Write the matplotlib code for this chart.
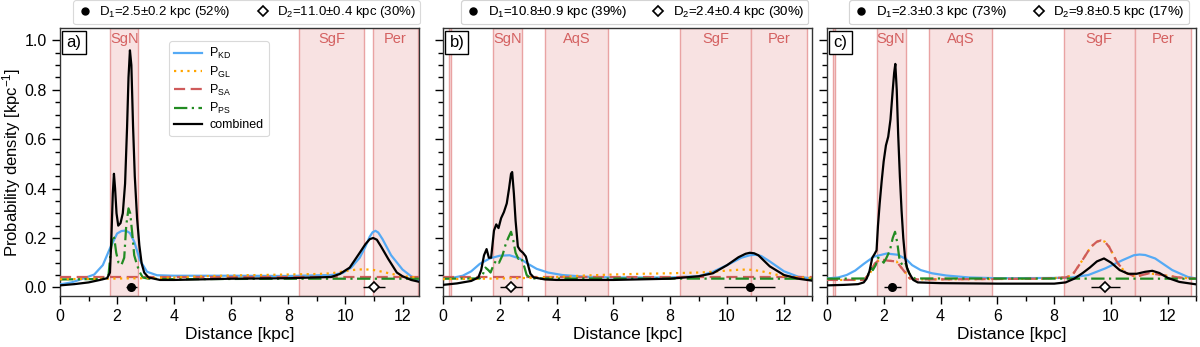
import matplotlib
matplotlib.use("Agg")
import matplotlib.pyplot as plt
from matplotlib.lines import Line2D

plt.rcParams["font.family"] = ["Liberation Sans", "DejaVu Sans"]
plt.rcParams["mathtext.fontset"] = "custom"
plt.rcParams["mathtext.rm"] = "Liberation Sans"
plt.rcParams["mathtext.it"] = "Liberation Sans:italic"

# ------------------------------------------------------------
# Data
# ------------------------------------------------------------

# panel a
kd_a_x = [0, 0.4, 0.8, 1.2, 1.5, 1.75, 2.0, 2.15, 2.3, 2.45, 2.6, 2.8, 3.05, 3.4, 4.0, 6.0, 8.0,
          9.5, 9.9, 10.2, 10.5, 10.7, 10.85, 10.95, 11.05, 11.15, 11.3, 11.6, 12.0, 12.3, 12.6]
kd_a_y = [0.012, 0.02, 0.035, 0.052, 0.09, 0.158, 0.218, 0.228, 0.23, 0.22, 0.185, 0.11, 0.063,
          0.049, 0.047, 0.047, 0.046, 0.05, 0.058, 0.08, 0.12, 0.165, 0.205, 0.223, 0.229, 0.222,
          0.195, 0.13, 0.072, 0.045, 0.025]
gl_a_x = [0, 1.5, 3, 4, 5, 6, 7, 8, 9, 9.5, 9.8, 10.1, 10.4, 10.7, 11.0, 11.3, 11.6, 11.9, 12.2, 12.6]
gl_a_y = [0.033, 0.035, 0.037, 0.04, 0.045, 0.048, 0.05, 0.052, 0.054, 0.057, 0.062, 0.068, 0.072,
          0.073, 0.07, 0.063, 0.055, 0.048, 0.043, 0.04]
sa_a_x = [0, 12.6]
sa_a_y = [0.04, 0.04]
ps_a_x = [0, 1.5, 1.7, 1.78, 1.85, 1.9, 1.97, 2.05, 2.15, 2.25, 2.32, 2.4, 2.46, 2.53, 2.6, 2.7,
          2.8, 2.9, 3.1, 4, 8, 10, 11, 12.6]
ps_a_y = [0.032, 0.034, 0.05, 0.15, 0.21, 0.2, 0.14, 0.1, 0.09, 0.12, 0.25, 0.32, 0.3, 0.22, 0.13,
          0.09, 0.06, 0.04, 0.035, 0.033, 0.035, 0.035, 0.035, 0.035]
cb_a_x = [0, 0.5, 1.0, 1.4, 1.65, 1.75, 1.8, 1.85, 1.89, 1.93, 1.98, 2.04, 2.12, 2.2, 2.28, 2.35,
          2.4, 2.45, 2.5, 2.56, 2.62, 2.7, 2.78, 2.86, 2.95, 3.1, 3.5, 4.0, 6.0, 8.0, 9.5, 9.8,
          10.15, 10.5, 10.7, 10.85, 10.97, 11.1, 11.25, 11.5, 11.8, 12.0, 12.3, 12.6]
cb_a_y = [0.008, 0.013, 0.02, 0.03, 0.037, 0.06, 0.2, 0.38, 0.46, 0.40, 0.30, 0.25, 0.26, 0.30,
          0.42, 0.65, 0.85, 0.96, 0.9, 0.65, 0.45, 0.28, 0.17, 0.097, 0.06, 0.04, 0.03, 0.03,
          0.035, 0.037, 0.042, 0.054, 0.08, 0.14, 0.175, 0.195, 0.20, 0.193, 0.165, 0.115, 0.06,
          0.045, 0.03, 0.022]

# panel b
kd_b_x = [0, 0.4, 0.7, 1.0, 1.3, 1.65, 2.0, 2.35, 2.7, 3.0, 3.3, 3.7, 4.2, 5.0, 6, 8, 9.0, 9.5,
          10.0, 10.5, 10.8, 11.0, 11.2, 11.5, 12.0, 12.5, 13.0]
kd_b_y = [0.036, 0.04, 0.047, 0.065, 0.095, 0.117, 0.128, 0.13, 0.117, 0.095, 0.075, 0.06, 0.05,
          0.043, 0.04, 0.04, 0.045, 0.063, 0.09, 0.12, 0.13, 0.132, 0.127, 0.105, 0.065, 0.043,
          0.036]
gl_b_x = [0, 2, 3, 4, 5, 6, 7, 8, 9, 9.5, 10.0, 10.5, 10.9, 11.3, 11.7, 12.1, 12.5, 13]
gl_b_y = [0.033, 0.036, 0.038, 0.042, 0.048, 0.052, 0.055, 0.057, 0.06, 0.063, 0.068, 0.072,
          0.071, 0.063, 0.052, 0.045, 0.04, 0.038]
sa_b_x = [0, 13]
sa_b_y = [0.04, 0.04]
ps_b_x = [0, 1.3, 1.4, 1.5, 1.6, 1.68, 1.78, 1.88, 1.98, 2.1, 2.2, 2.3, 2.4, 2.48, 2.56, 2.66,
          2.76, 2.85, 2.95, 3.1, 13]
ps_b_y = [0.035, 0.036, 0.05, 0.08, 0.07, 0.06, 0.09, 0.11, 0.1, 0.13, 0.17, 0.2, 0.225, 0.19,
          0.14, 0.115, 0.12, 0.09, 0.05, 0.036, 0.035]
cb_b_x = [0, 0.5, 1.0, 1.25, 1.35, 1.45, 1.54, 1.62, 1.7, 1.8, 1.88, 1.96, 2.05, 2.15, 2.25,
          2.33, 2.4, 2.44, 2.5, 2.56, 2.64, 2.72, 2.82, 2.92, 3.0, 3.08, 3.2, 3.6, 4.0, 6.0, 8.0,
          9.0, 9.5, 10.0, 10.4, 10.65, 10.8, 10.95, 11.1, 11.5, 12.0, 12.5, 13.0]
cb_b_y = [0.01, 0.016, 0.026, 0.04, 0.07, 0.13, 0.155, 0.12, 0.12, 0.23, 0.255, 0.24, 0.28,
          0.305, 0.34, 0.4, 0.46, 0.467, 0.38, 0.27, 0.165, 0.15, 0.14, 0.125, 0.09, 0.055, 0.04,
          0.032, 0.03, 0.03, 0.035, 0.045, 0.057, 0.09, 0.122, 0.136, 0.14, 0.138, 0.13, 0.085,
          0.05, 0.035, 0.027]

# panel c
kd_c_x = [0, 0.4, 0.7, 1.0, 1.3, 1.65, 2.1, 2.5, 2.8, 3.0, 3.3, 3.7, 4.2, 5.0, 6, 8, 8.6, 9.2,
          9.8, 10.4, 10.8, 11.0, 11.2, 11.55, 12.15, 12.7, 13.0]
kd_c_y = [0.036, 0.04, 0.05, 0.068, 0.095, 0.124, 0.137, 0.132, 0.113, 0.09, 0.07, 0.057, 0.048,
          0.04, 0.037, 0.038, 0.04, 0.05, 0.077, 0.11, 0.13, 0.133, 0.131, 0.117, 0.07, 0.042,
          0.036]
sa_c_x = [0, 1.3, 1.52, 1.69, 1.87, 2.16, 2.45, 2.69, 2.92, 3.2, 7.5, 8.4, 8.64, 8.99, 9.29,
          9.5, 9.64, 9.78, 9.93, 10.22, 10.51, 10.86, 11.33, 11.8, 12.38, 13.0]
sa_c_y = [0.03, 0.03, 0.057, 0.097, 0.113, 0.108, 0.105, 0.07, 0.036, 0.032, 0.035, 0.04, 0.05,
          0.11, 0.164, 0.185, 0.19, 0.185, 0.164, 0.1, 0.059, 0.043, 0.057, 0.05, 0.04, 0.035]
gl_c_x = sa_c_x  # P_GL coincides with P_SA here
gl_c_y = sa_c_y
ps_c_x = [0, 1.35, 1.45, 1.55, 1.62, 1.72, 1.8, 1.9, 2.0, 2.1, 2.22, 2.32, 2.4, 2.48, 2.56, 2.66,
          2.76, 2.85, 2.95, 3.1, 13]
ps_c_y = [0.035, 0.036, 0.05, 0.08, 0.07, 0.09, 0.12, 0.115, 0.1, 0.12, 0.15, 0.2, 0.225, 0.18,
          0.11, 0.09, 0.1, 0.07, 0.045, 0.036, 0.035]
cb_c_x = [0, 0.6, 1.1, 1.3, 1.4, 1.5, 1.6, 1.68, 1.75, 1.8, 1.86, 1.93, 2.0, 2.08, 2.16, 2.24,
          2.32, 2.37, 2.41, 2.46, 2.51, 2.57, 2.63, 2.69, 2.75, 2.82, 2.9, 3.04, 3.2, 4.0, 6.0,
          8.0, 8.4, 8.7, 9.0, 9.25, 9.5, 9.75, 10.0, 10.3, 10.6, 10.9, 11.2, 11.45, 11.7, 12.0,
          12.4, 13.0]
cb_c_y = [0.008, 0.01, 0.013, 0.02, 0.035, 0.065, 0.12, 0.135, 0.15, 0.25, 0.34, 0.43, 0.51,
          0.575, 0.61, 0.68, 0.8, 0.87, 0.905, 0.8, 0.62, 0.45, 0.31, 0.2, 0.124, 0.08, 0.057,
          0.03, 0.02, 0.017, 0.015, 0.015, 0.02, 0.035, 0.058, 0.08, 0.105, 0.117, 0.1, 0.07,
          0.055, 0.055, 0.063, 0.067, 0.058, 0.038, 0.022, 0.012]

# spiral arm ranges [kpc]
arms_a = [("SgN", 1.75, 2.75), ("SgF", 8.37, 10.66), ("Per", 10.96, 12.53)]
arms_b = [("", 0.22, 0.30), ("SgN", 1.76, 2.79), ("AqS", 3.61, 5.81), ("SgF", 8.36, 10.83),
          ("Per", 10.83, 12.80)]
arms_c = [("", 0.22, 0.30), ("SgN", 1.75, 2.77), ("AqS", 3.60, 5.82), ("SgF", 8.33, 10.83),
          ("Per", 10.83, 12.80)]

# distance estimates: (value, error, weight)
d1 = [(2.5, 0.2, 52), (10.8, 0.9, 39), (2.3, 0.3, 73)]
d2 = [(11.0, 0.4, 30), (2.4, 0.4, 30), (9.8, 0.5, 17)]

panel_labels = ["a)", "b)", "c)"]
xmax = [12.57, 13.0, 13.0]

curves = [
    [(kd_a_x, kd_a_y), (gl_a_x, gl_a_y), (sa_a_x, sa_a_y), (ps_a_x, ps_a_y), (cb_a_x, cb_a_y)],
    [(kd_b_x, kd_b_y), (gl_b_x, gl_b_y), (sa_b_x, sa_b_y), (ps_b_x, ps_b_y), (cb_b_x, cb_b_y)],
    [(kd_c_x, kd_c_y), (gl_c_x, gl_c_y), (sa_c_x, sa_c_y), (ps_c_x, ps_c_y), (cb_c_x, cb_c_y)],
]
arms = [arms_a, arms_b, arms_c]

# ------------------------------------------------------------
# Styles
# ------------------------------------------------------------

names = [r"P$_{\rm KD}$", r"P$_{\rm GL}$", r"P$_{\rm SA}$", r"P$_{\rm PS}$", "combined"]
colors = ["#55aaf5", "orange", "#cf5b5b", "forestgreen", "black"]
styles = ["-", (0, (1, 2)), (0, (5, 2.5)), (0, (6, 2, 1, 2)), "-"]
zorders = [3, 5, 4, 4, 6]
band_face = "#f8e2e2"
band_edge = "#e9a3a3"
arm_color = "#d46060"

# ------------------------------------------------------------
# Figure
# ------------------------------------------------------------

fig = plt.figure(figsize=(12, 3.47), dpi=100)
lefts = [0.05, 0.369, 0.689]
widths = [0.299, 0.308, 0.308]

for i in range(3):
    ax = fig.add_axes([lefts[i], 0.147, widths[i], 0.772])

    for name, lo, hi in arms[i]:
        ax.axvspan(lo, hi, facecolor=band_face, edgecolor=band_edge, lw=1.0, zorder=0)
        if name:
            ax.text((lo + hi) / 2, 0.985, name, transform=ax.get_xaxis_transform(),
                    ha="center", va="top", color=arm_color, fontsize=10.5)

    handles = []
    for j, (xs, ys) in enumerate(curves[i]):
        z = zorders[j]
        if i == 2 and j == 1:
            z = 3.5  # red dashes on top, orange dots in the gaps
        h, = ax.plot(xs, ys, color=colors[j], ls=styles[j], lw=1.6, zorder=z, label=names[j])
        handles.append(h)

    v1, e1, w1 = d1[i]
    v2, e2, w2 = d2[i]
    ax.errorbar([v1], [0.0], xerr=[e1], fmt="o", color="black", ms=5.5, lw=1, zorder=8)
    ax.errorbar([v2], [0.0], xerr=[e2], fmt="D", mfc="white", mec="black", color="black",
                ms=5, lw=1, mew=1.2, zorder=8)

    top_handles = [
        Line2D([], [], ls="none", marker="o", color="black", ms=5),
        Line2D([], [], ls="none", marker="D", mfc="white", mec="black", ms=5, mew=1.2),
    ]
    top_labels = [
        "D$_1$=%.1f±%.1f kpc (%d%%)" % (v1, e1, w1),
        "D$_2$=%.1f±%.1f kpc (%d%%)" % (v2, e2, w2),
    ]
    leg = ax.legend(top_handles, top_labels, loc="lower center", bbox_to_anchor=(0.52, 1.0),
                    ncol=2, fontsize=9.5, frameon=True, columnspacing=1.8, handlelength=1.2,
                    handletextpad=0.5, borderpad=0.3, borderaxespad=0.3)
    leg.get_frame().set_edgecolor("#d0d0d0")
    leg.get_frame().set_linewidth(0.8)
    ax.add_artist(leg)

    if i == 0:
        leg2 = ax.legend(handles, names, loc="upper left", bbox_to_anchor=(0.305, 0.951),
                         fontsize=9, frameon=True, handlelength=2.2, labelspacing=0.25,
                         borderpad=0.4, borderaxespad=0.0, handletextpad=0.6)
        leg2.get_frame().set_edgecolor("#d0d0d0")
        leg2.get_frame().set_linewidth(0.8)

    ax.text(0.018, 0.975, panel_labels[i], transform=ax.transAxes, ha="left", va="top",
            fontsize=12, bbox=dict(boxstyle="square,pad=0.25", fc="white", ec="black", lw=1),
            zorder=10)

    ax.set_xlim(0, xmax[i])
    ax.set_ylim(-0.035, 1.05)
    ax.set_xticks([0, 2, 4, 6, 8, 10, 12])
    ax.set_xticks([1, 3, 5, 7, 9, 11, 13] if xmax[i] >= 13 else [1, 3, 5, 7, 9, 11], minor=True)
    ax.set_yticks([0.0, 0.2, 0.4, 0.6, 0.8, 1.0])
    ax.set_yticks([0.05, 0.1, 0.15, 0.25, 0.3, 0.35, 0.45, 0.5, 0.55, 0.65, 0.7, 0.75,
                   0.85, 0.9, 0.95], minor=True)
    ax.tick_params(which="major", direction="out", length=6, width=1, labelsize=11.5)
    ax.tick_params(which="minor", direction="out", length=3.5, width=1)
    for sp in ax.spines.values():
        sp.set_linewidth(1.0)
        sp.set_color("#333333")
    ax.set_xlabel("Distance [kpc]", fontsize=12.5, labelpad=2)
    if i == 0:
        ax.set_ylabel("Probability density [kpc$^{-1}$]", fontsize=12, labelpad=1)
    else:
        ax.set_yticklabels([])

fig.savefig("out.png", dpi=100)
